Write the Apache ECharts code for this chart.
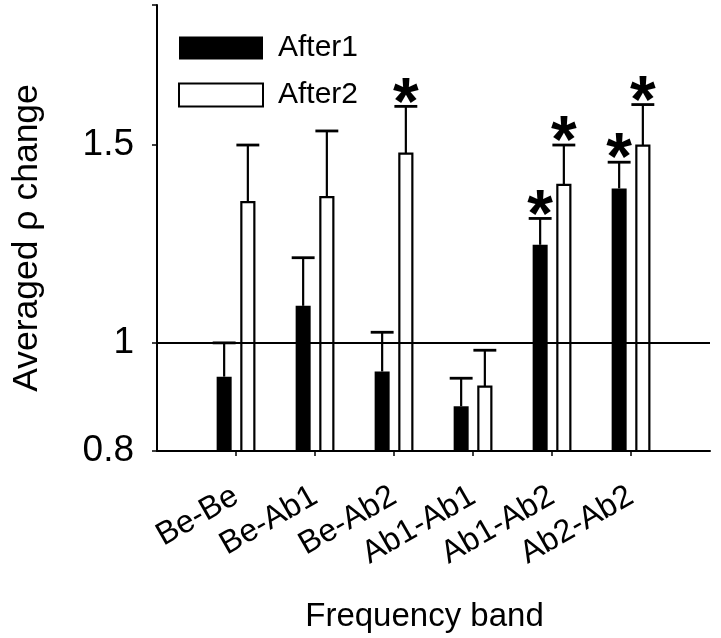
<!DOCTYPE html>
<html style="height: 100%; width: 100%">
<head>
  <meta charset="utf-8" />
</head>
<body style="height: 100%; width: 100%; margin: 0; background: #fff;">
  <div id="chart-panel" style="height: 638px; width: 721px;"></div>
  <script type="text/javascript" src="https://cdn.jsdelivr.net/npm/echarts@6.0.0/dist/echarts.min.js"></script>
  <script type="text/javascript">
    var categories = ["Be-Be", "Be-Ab1", "Be-Ab2", "Ab1-Ab1", "Ab1-Ab2", "Ab2-Ab2"];
    var after1Mean = [0.932, 1.078, 0.942, 0.877, 1.222, 1.372];
    var after1Err = [0.067, 0.112, 0.079, 0.052, 0.068, 0.076];
    var after1Sig = [0, 0, 0, 0, 1, 1];
    var after2Mean = [1.334, 1.348, 1.474, 0.913, 1.382, 1.498];
    var after2Err = [0.166, 0.196, 0.150, 0.071, 0.118, 0.132];
    var after2Sig = [0, 0, 1, 0, 1, 1];
    var yTickValues = [0.8, 1, 1.5, 2];
    var yLabelValues = [0.8, 1, 1.5];

    var yMin = 0.8;
    var fontName = "Liberation Sans, Arial, sans-serif";

    function buildData(mean, err, sig) {
      return mean.map(function (m, i) {
        return [i + 1, m, m + err[i], sig[i]];
      });
    }

    // bar + error bar + asterisk, drawn through the axes
    function makeRender(side, filled) {
      return function (params, api) {
        var x = api.value(0);
        var top = api.coord([x, api.value(1)]);
        var base = api.coord([x, yMin]);
        var errTop = api.coord([x, api.value(2)]);
        var unit = api.size([1, 0])[0];
        var cx = top[0] + side * 0.15 * unit;
        var w = 0.19 * unit;
        var capW = 0.29 * unit;
        var children = [
          {
            type: "line",
            shape: { x1: cx, y1: top[1], x2: cx, y2: errTop[1] },
            style: { stroke: "#000", lineWidth: 2.2 }
          },
          {
            type: "line",
            shape: { x1: cx - capW / 2, y1: errTop[1], x2: cx + capW / 2, y2: errTop[1] },
            style: { stroke: "#000", lineWidth: 2.8 }
          },
          {
            type: "rect",
            shape: filled
              ? { x: cx - w / 2, y: top[1], width: w, height: base[1] - top[1] }
              : { x: cx - w / 2 + 1, y: top[1], width: w - 2, height: base[1] - top[1] },
            style: filled
              ? { fill: "#000" }
              : { fill: "#fff", stroke: "#000", lineWidth: 2.2 }
          }
        ];
        if (api.value(3)) {
          children.push({
            type: "text",
            x: cx,
            y: errTop[1] - 1,
            style: {
              text: "*",
              fill: "#000",
              font: "bold 66px " + fontName,
              align: "center",
              verticalAlign: "middle"
            }
          });
        }
        return { type: "group", children: children };
      };
    }

    var myChart = echarts.init(document.getElementById("chart-panel"));

    var option = {
      animation: false,
      backgroundColor: "#fff",
      textStyle: { fontFamily: fontName, color: "#000" },
      grid: { left: 157, right: 11, top: 5, bottom: 186, containLabel: false },
      legend: {
        orient: "vertical",
        left: 178,
        top: 33,
        padding: 0,
        itemWidth: 84,
        itemHeight: 23,
        itemGap: 17,
        textStyle: { fontSize: 30, color: "#000", fontFamily: fontName, padding: [0, 0, 0, 10] },
        data: [
          { name: "After1", icon: "rect", itemStyle: { color: "#000" } },
          { name: "After2", icon: "rect", itemStyle: { color: "#fff", borderColor: "#000", borderWidth: 2 } }
        ]
      },
      xAxis: {
        type: "value",
        min: 0,
        max: 7,
        interval: 1,
        name: "Frequency band",
        nameLocation: "middle",
        nameGap: 149,
        nameTextStyle: { fontSize: 33, color: "#000", fontFamily: fontName, padding: [0, 18, 0, 0] },
        axisLine: { lineStyle: { color: "#000", width: 2 } },
        axisTick: { show: true, length: 5, customValues: [1, 2, 3, 4, 5, 6], lineStyle: { color: "#000", width: 1.5 } },
        axisLabel: {
          customValues: [1, 2, 3, 4, 5, 6],
          rotate: 30,
          margin: 43,
          fontSize: 32,
          color: "#000",
          fontFamily: fontName,
          formatter: function (v) { return categories[v - 1] || ""; }
        },
        splitLine: { show: false }
      },
      yAxis: {
        type: "log",
        logBase: 10,
        min: 0.8,
        max: 2,
        name: "Averaged \u03c1 change",
        nameLocation: "middle",
        nameGap: 112,
        nameTextStyle: { fontSize: 35.5, color: "#000", fontFamily: fontName, padding: [0, 20, 0, 0] },
        axisLine: { show: true, lineStyle: { color: "#000", width: 2 } },
        axisTick: { show: true, length: 5, customValues: yTickValues, lineStyle: { color: "#000", width: 1.5 } },
        axisLabel: {
          customValues: yLabelValues,
          margin: 23,
          fontSize: 37,
          color: "#000",
          fontFamily: fontName,
          formatter: function (v) { return String(+v.toFixed(2)); }
        },
        splitLine: { show: false },
        minorTick: { show: false }
      },
      series: [
        {
          name: "After1",
          type: "custom",
          itemStyle: { color: "#000" },
          renderItem: makeRender(-1, true),
          data: buildData(after1Mean, after1Err, after1Sig),
          encode: { x: 0, y: [1, 2] },
          markLine: {
            silent: true,
            symbol: "none",
            label: { show: false },
            lineStyle: { color: "#000", width: 2.2, type: "solid" },
            data: [{ yAxis: 1 }]
          },
          z: 2
        },
        {
          name: "After2",
          type: "custom",
          itemStyle: { color: "#fff", borderColor: "#000", borderWidth: 2 },
          renderItem: makeRender(1, false),
          data: buildData(after2Mean, after2Err, after2Sig),
          encode: { x: 0, y: [1, 2] },
          z: 2
        }
      ]
    };

    myChart.setOption(option);
  </script>
</body>
</html>
